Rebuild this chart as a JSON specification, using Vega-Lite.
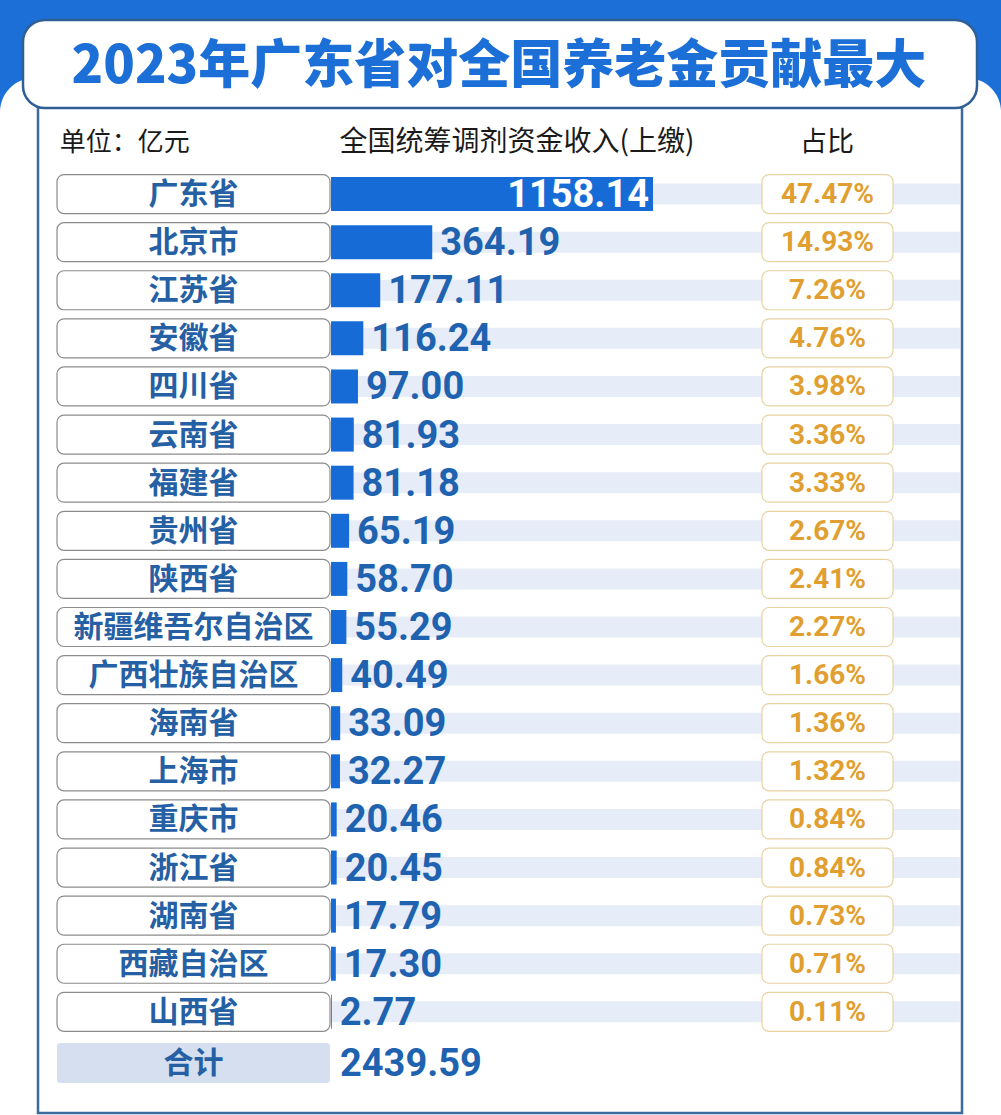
{
  "$schema": "https://vega.github.io/schema/vega-lite/v6.json",
  "width": 1001,
  "height": 1115,
  "autosize": "none",
  "padding": 0,
  "background": "#ffffff",
  "config": {"view": {"stroke": null}},
  "datasets": {
    "rows": [
      {"region": "广东省", "value": 1158.14, "share": 0.4747},
      {"region": "北京市", "value": 364.19, "share": 0.1493},
      {"region": "江苏省", "value": 177.11, "share": 0.0726},
      {"region": "安徽省", "value": 116.24, "share": 0.0476},
      {"region": "四川省", "value": 97.00, "share": 0.0398},
      {"region": "云南省", "value": 81.93, "share": 0.0336},
      {"region": "福建省", "value": 81.18, "share": 0.0333},
      {"region": "贵州省", "value": 65.19, "share": 0.0267},
      {"region": "陕西省", "value": 58.70, "share": 0.0241},
      {"region": "新疆维吾尔自治区", "value": 55.29, "share": 0.0227},
      {"region": "广西壮族自治区", "value": 40.49, "share": 0.0166},
      {"region": "海南省", "value": 33.09, "share": 0.0136},
      {"region": "上海市", "value": 32.27, "share": 0.0132},
      {"region": "重庆市", "value": 20.46, "share": 0.0084},
      {"region": "浙江省", "value": 20.45, "share": 0.0084},
      {"region": "湖南省", "value": 17.79, "share": 0.0073},
      {"region": "西藏自治区", "value": 17.30, "share": 0.0071},
      {"region": "山西省", "value": 2.77, "share": 0.0011}
    ],
    "total": [{"region": "合计", "value": 2439.59}],
    "one": [{"title": "2023年广东省对全国养老金贡献最大", "unit": "单位：亿元", "col1": "全国统筹调剂资金收入(上缴)", "col2": "占比"}]
  },
  "layer": [
    {
      "data": {"name": "one"},
      "mark": {"type": "rect", "fill": "#1b6fd6"},
      "encoding": {"x": {"value": 0}, "x2": {"value": 1001}, "y": {"value": 0}, "y2": {"value": 110}}
    },
    {
      "data": {"name": "one"},
      "mark": {"type": "rect", "fill": "#ffffff", "cornerRadius": 34},
      "encoding": {"x": {"value": 0}, "x2": {"value": 1001}, "y": {"value": 78}, "y2": {"value": 1140}}
    },
    {
      "data": {"name": "one"},
      "mark": {"type": "rect", "fill": "#ffffff", "stroke": "#3a6a9e", "strokeWidth": 2.5},
      "encoding": {"x": {"value": 38}, "x2": {"value": 962}, "y": {"value": 90}, "y2": {"value": 1113}}
    },
    {
      "data": {"name": "one"},
      "mark": {"type": "rect", "fill": "#ffffff", "stroke": "#2f5f95", "strokeWidth": 2.5, "cornerRadius": 22},
      "encoding": {"x": {"value": 23}, "x2": {"value": 977}, "y": {"value": 20}, "y2": {"value": 108}}
    },
    {
      "data": {"name": "rows"},
      "mark": {"type": "bar", "fill": "#e7edf8", "height": 21},
      "encoding": {
        "y": {"field": "region", "type": "nominal", "axis": null,
              "scale": {"domain": ["广东省","北京市","江苏省","安徽省","四川省","云南省","福建省","贵州省","陕西省","新疆维吾尔自治区","广西壮族自治区","海南省","上海市","重庆市","浙江省","湖南省","西藏自治区","山西省","合计"],
                        "range": [170, 1084], "paddingInner": 0, "paddingOuter": 0}},
        "x": {"datum": 0, "type": "quantitative", "axis": null, "scale": {"domain": [-1190.5, 2409.8], "nice": false, "zero": false}},
        "x2": {"datum": 2262}
      }
    },
    {
      "data": {"name": "rows"},
      "mark": {"type": "bar", "fill": "#ffffff", "stroke": "#8c8c8c", "strokeWidth": 1.2, "cornerRadius": 7, "height": 39},
      "encoding": {
        "y": {"field": "region", "type": "nominal"},
        "x": {"datum": -985.5, "type": "quantitative"},
        "x2": {"datum": -3.6}
      }
    },
    {
      "data": {"name": "total"},
      "mark": {"type": "bar", "fill": "#d5dff0", "cornerRadius": 3, "height": 40, "yOffset": 3},
      "encoding": {
        "y": {"field": "region", "type": "nominal"},
        "x": {"datum": -985.5, "type": "quantitative"},
        "x2": {"datum": -3.6}
      }
    },
    {
      "data": {"name": "rows"},
      "mark": {"type": "bar", "fill": "#166bd6", "height": 34},
      "encoding": {
        "y": {"field": "region", "type": "nominal"},
        "x": {"field": "value", "type": "quantitative"},
        "x2": {"datum": 0}
      }
    },
    {
      "data": {"name": "rows"},
      "mark": {"type": "bar", "fill": "#ffffff", "stroke": "#e8d2a2", "strokeWidth": 1.2, "cornerRadius": 7, "height": 39},
      "encoding": {
        "y": {"field": "region", "type": "nominal"},
        "x": {"datum": 1550.2, "type": "quantitative"},
        "x2": {"datum": 2021.4}
      }
    },
    {
      "data": {"name": "rows"},
      "mark": {"type": "text", "font": "Noto Sans CJK SC", "fontWeight": "bold", "fontSize": 30, "fill": "#2660a4", "align": "center", "baseline": "middle", "dy": 1},
      "encoding": {
        "y": {"field": "region", "type": "nominal"},
        "x": {"datum": -494.6, "type": "quantitative"},
        "text": {"field": "region"}
      }
    },
    {
      "data": {"name": "total"},
      "mark": {"type": "text", "font": "Noto Sans CJK SC", "fontWeight": "bold", "fontSize": 30, "fill": "#2660a4", "align": "center", "baseline": "middle", "dy": 4},
      "encoding": {
        "y": {"field": "region", "type": "nominal"},
        "x": {"datum": -494.6, "type": "quantitative"},
        "text": {"field": "region"}
      }
    },
    {
      "data": {"name": "rows"},
      "transform": [{"filter": "datum.value < 1000"}],
      "mark": {"type": "text", "font": "Roboto", "fontWeight": "bold", "fontSize": 38, "fill": "#1e62b0", "align": "left", "baseline": "middle", "dx": 8, "dy": 2},
      "encoding": {
        "y": {"field": "region", "type": "nominal"},
        "x": {"field": "value", "type": "quantitative"},
        "text": {"field": "value", "type": "quantitative", "format": ".2f"}
      }
    },
    {
      "data": {"name": "rows"},
      "transform": [{"filter": "datum.value >= 1000"}],
      "mark": {"type": "text", "font": "Roboto", "fontWeight": "bold", "fontSize": 38, "fill": "#ffffff", "align": "right", "baseline": "middle", "dx": -4, "dy": 2},
      "encoding": {
        "y": {"field": "region", "type": "nominal"},
        "x": {"field": "value", "type": "quantitative"},
        "text": {"field": "value", "type": "quantitative", "format": ".2f"}
      }
    },
    {
      "data": {"name": "total"},
      "mark": {"type": "text", "font": "Roboto", "fontWeight": "bold", "fontSize": 38, "fill": "#1e62b0", "align": "left", "baseline": "middle", "dx": 9, "dy": 5},
      "encoding": {
        "y": {"field": "region", "type": "nominal"},
        "x": {"datum": 0, "type": "quantitative"},
        "text": {"field": "value", "type": "quantitative", "format": ".2f"}
      }
    },
    {
      "data": {"name": "rows"},
      "mark": {"type": "text", "font": "Roboto", "fontWeight": "bold", "fontSize": 28, "fill": "#e09f30", "align": "center", "baseline": "middle", "dy": 1},
      "encoding": {
        "y": {"field": "region", "type": "nominal"},
        "x": {"datum": 1785.8, "type": "quantitative"},
        "text": {"field": "share", "type": "quantitative", "format": ".2%"}
      }
    },
    {
      "data": {"name": "one"},
      "mark": {"type": "text", "font": "Noto Sans CJK SC", "fontWeight": 900, "fontSize": 52, "fill": "#1b6fd6", "align": "center", "baseline": "middle"},
      "encoding": {"text": {"field": "title"}, "x": {"datum": 604, "type": "quantitative"}, "y": {"value": 67}}
    },
    {
      "data": {"name": "one"},
      "mark": {"type": "text", "font": "Noto Sans CJK SC", "fontSize": 26, "fill": "#1a1a1a", "align": "left", "baseline": "middle"},
      "encoding": {"text": {"field": "unit"}, "x": {"datum": -976, "type": "quantitative"}, "y": {"value": 143}}
    },
    {
      "data": {"name": "one"},
      "mark": {"type": "text", "font": "Noto Sans CJK SC", "fontSize": 28, "fill": "#1a1a1a", "align": "center", "baseline": "middle"},
      "encoding": {"text": {"field": "col1"}, "x": {"datum": 669, "type": "quantitative"}, "y": {"value": 143}}
    },
    {
      "data": {"name": "one"},
      "mark": {"type": "text", "font": "Noto Sans CJK SC", "fontSize": 27, "fill": "#1a1a1a", "align": "center", "baseline": "middle"},
      "encoding": {"text": {"field": "col2"}, "x": {"datum": 1784, "type": "quantitative"}, "y": {"value": 143}}
    }
  ]
}
